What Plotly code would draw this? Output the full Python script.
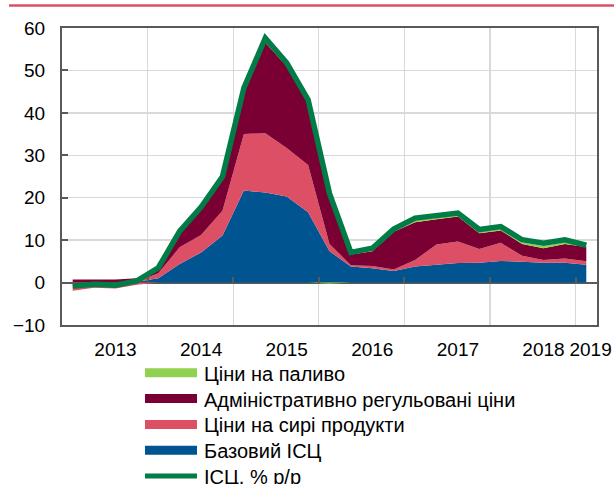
import plotly.graph_objects as go

# Quarterly data, I.2013 - I.2019 (index positions on the category axis)
quarters = [f"{q}.{y}" for y in range(2013, 2020) for q in ("I", "II", "III", "IV")][:25]

core = [0.0, 0.0, 0.0, 0.2, 1.0, 4.4, 7.1, 11.1, 21.7, 21.2, 20.3, 16.6, 7.4,
        3.8, 3.4, 2.7, 3.8, 4.2, 4.6, 4.7, 5.1, 4.9, 4.7, 4.7, 4.2]
raw_food = [-1.9, -1.2, -1.4, -0.5, 1.2, 3.9, 4.1, 5.8, 13.3, 14.0, 11.4, 11.1, 1.7,
            0.3, 0.5, 0.4, 1.5, 4.8, 5.1, 3.2, 4.3, 1.4, 0.6, 1.0, 0.8]
admin = [0.7, 0.7, 0.7, 0.8, 0.8, 3.7, 6.3, 7.8, 10.5, 21.4, 19.3, 14.6, 11.4,
         2.5, 3.5, 8.9, 8.9, 5.9, 5.9, 3.7, 2.9, 2.8, 2.8, 3.4, 3.4]
fuel = [0.0, 0.0, 0.0, 0.0, 0.2, 0.1, 0.1, 0.1, 0.1, 0.1, 0.1, 0.1, -0.3,
        0.0, 0.1, 0.2, 0.5, 0.4, 0.3, 0.5, 0.4, 0.4, 0.5, 0.4, 0.2]
cpi = [-0.8, -0.4, -0.6, 0.4, 3.5, 12.1, 17.8, 25.0, 45.9, 57.6, 51.8, 43.1, 21.0,
       7.1, 8.1, 12.6, 15.2, 15.7, 16.4, 12.5, 13.2, 10.1, 9.3, 10.1, 8.8]

year_labels = ["2013", "2014", "2015", "2016", "2017", "2018", "2019"]
year_label_pos = [2, 6, 10, 14, 18, 22, 24.2]
year_bounds = [3.5, 7.5, 11.5, 15.5, 19.5, 23.5]

legend_keys = ["fuel", "admin", "raw", "core", "cpi"]
names = {
    "fuel": "Ціни на паливо",
    "admin": "Адміністративно регульовані ціни",
    "raw": "Ціни на сирі продукти",
    "core": "Базовий ІСЦ",
    "cpi": "ІСЦ, % р/р",
}
colors = {
    "fuel": "#92D050",
    "admin": "#7A0033",
    "raw": "#DC4F65",
    "core": "#005591",
    "cpi": "#007D46",
}

x = list(range(len(quarters)))
FONT = "Liberation Sans, Arial, sans-serif"

W, H = 614, 484
ML, MR, MT, MB = 62, 17, 28, 159
PW, PH = W - ML - MR, H - MT - MB


def px_x(p):  # pixel -> paper x
    return (p - ML) / PW


def px_y(p):  # pixel -> paper y
    return (H - MB - p) / PH


fig = go.Figure()

# stacked areas: positive and negative parts stacked separately
stack = [("core", core), ("raw", raw_food), ("admin", admin), ("fuel", fuel)]
for grp, sign in (("pos", 1), ("neg", -1)):
    for key, vals in stack:
        part = [max(v, 0) if sign > 0 else min(v, 0) for v in vals]
        fig.add_trace(go.Scatter(
            x=x, y=part, stackgroup=grp, mode="lines", name=names[key],
            line=dict(width=0, color=colors[key]), fillcolor=colors[key],
            showlegend=False, hoverinfo="skip",
        ))

fig.add_trace(go.Scatter(
    x=x, y=cpi, mode="lines", name=names["cpi"],
    line=dict(color=colors["cpi"], width=5.5),
    showlegend=False, hoverinfo="skip",
))

# helper trace for the zero-line tick marks axis
fig.add_trace(go.Scatter(x=[None], y=[None], xaxis="x2", showlegend=False,
                         hoverinfo="skip"))

# legend (drawn below the plot, last entry cut by the page edge)
shapes = [dict(type="line", xref="paper", yref="paper",
               x0=px_x(9), x1=px_x(620), y0=px_y(5.5), y1=px_y(5.5),
               line=dict(color="#DC4F65", width=2.5))]
annotations = []
leg_top, leg_step = 372.8, 25.8
for i, key in enumerate(legend_keys):
    cy = leg_top + i * leg_step
    half = 2.5 if key == "cpi" else 4.5
    shapes.append(dict(type="rect", xref="paper", yref="paper",
                       x0=px_x(145), x1=px_x(197),
                       y0=px_y(cy - half), y1=px_y(cy + half),
                       fillcolor=colors[key], line=dict(width=0)))
    annotations.append(dict(text=names[key], xref="paper", yref="paper",
                            x=px_x(202), y=px_y(cy + 1), xanchor="left",
                            yanchor="middle", showarrow=False,
                            font=dict(family=FONT, size=20, color="black")))

ymin, ymax = -10, 60
fig.update_layout(
    width=W, height=H,
    margin=dict(l=ML, r=MR, t=MT, b=MB, autoexpand=False),
    paper_bgcolor="white", plot_bgcolor="white",
    font=dict(family=FONT, size=19, color="black"),
    showlegend=False,
    xaxis=dict(
        range=[-0.5, len(quarters) - 0.5],
        tickvals=year_label_pos, ticktext=year_labels,
        showgrid=False, ticks="", ticklabelstandoff=6,
        showline=True, linecolor="#595959", linewidth=2, mirror=True,
        minor=dict(tickvals=year_bounds, showgrid=True, gridcolor="#D9D9D9",
                   gridwidth=1.3, ticks=""),
        zeroline=False,
    ),
    xaxis2=dict(
        overlaying="x", anchor="free",
        position=(0 - ymin) / (ymax - ymin),
        range=[-0.5, len(quarters) - 0.5],
        tickvals=year_bounds, showticklabels=False,
        ticks="inside", ticklen=6, tickwidth=2, tickcolor="#595959",
        showgrid=False, showline=False, zeroline=False,
    ),
    yaxis=dict(
        range=[ymin, ymax], dtick=10,
        showgrid=True, gridcolor="#D9D9D9", gridwidth=1.3,
        ticks="inside", ticklen=6, tickwidth=2, tickcolor="#595959",
        ticklabelstandoff=11,
        showline=True, linecolor="#595959", linewidth=2, mirror=True,
        zeroline=True, zerolinecolor="#595959", zerolinewidth=2,
    ),
    shapes=shapes,
    annotations=annotations,
)

fig.write_html("out.html",
               config={"displayModeBar": False, "staticPlot": True},
               post_script="document.body.style.margin='0';"
                           "document.body.style.overflow='hidden';")
